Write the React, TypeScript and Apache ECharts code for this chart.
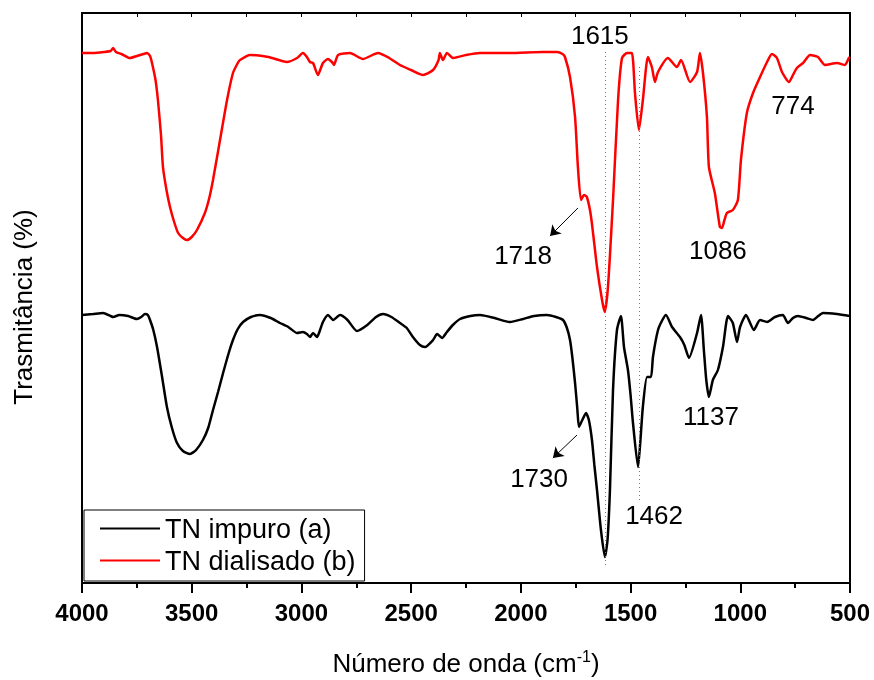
import React, { useEffect, useRef } from "react";
import * as echarts from "echarts";

const FONT = "'Liberation Sans', Arial, sans-serif";

// x-axis ticks
const xTicks = { min: 500, max: 4000, interval: 500 };

// TN dialisado (b) — wavenumber (cm-1) and transmittance (a.u.)
const wnB = [4000, 3950, 3900, 3870, 3858, 3845, 3820, 3781, 3750, 3720, 3704, 3690, 3681, 3665, 3654, 3640, 3631, 3615, 3599, 3580, 3562, 3540, 3522, 3500, 3476, 3440, 3420, 3403, 3371, 3339, 3312, 3290, 3280, 3234, 3150, 3066, 3020, 2993, 2975, 2961, 2947, 2925, 2902, 2879, 2861, 2852, 2833, 2779, 2720, 2651, 2600, 2551, 2500, 2446, 2400, 2375, 2369, 2355, 2337, 2309, 2250, 2186, 2050, 1900, 1835, 1810, 1799, 1776, 1753, 1740, 1726, 1712, 1699, 1680, 1653, 1630, 1618, 1603, 1580, 1557, 1539, 1516, 1494, 1480, 1462, 1444, 1421, 1403, 1389, 1375, 1330, 1289, 1270, 1229, 1197, 1184, 1170, 1152, 1143, 1116, 1093, 1084, 1072, 1061, 1034, 1011, 997, 970, 942, 910, 878, 856, 833, 810, 778, 760, 742, 714, 682, 646, 614, 559, 523, 505, 500];
const tB = [530, 530, 531, 532, 535, 531, 529, 525, 527, 529, 530, 527, 520, 503, 483, 448, 416, 393, 376, 361, 350, 345, 343, 346, 353, 370, 385, 403, 443, 483, 510, 520, 523, 528, 526, 521, 525, 530, 526, 521, 520, 508, 520, 524, 521, 518, 528, 530, 524, 530, 525, 518, 513, 508, 513, 523, 530, 523, 530, 525, 528, 530, 530, 531, 531, 529, 526, 506, 466, 416, 383, 388, 386, 366, 316, 283, 271, 296, 383, 483, 525, 530, 530, 490, 453, 483, 526, 516, 501, 511, 525, 516, 523, 501, 511, 530, 510, 466, 416, 390, 356, 355, 363, 370, 373, 383, 423, 470, 490, 506, 521, 529, 525, 511, 501, 508, 515, 520, 528, 526, 518, 520, 518, 525, 526];

// TN impuro (a)
const wnA = [4000, 3950, 3904, 3870, 3858, 3830, 3790, 3750, 3730, 3713, 3700, 3690, 3675, 3658, 3635, 3613, 3590, 3567, 3540, 3508, 3480, 3449, 3425, 3403, 3380, 3357, 3330, 3312, 3290, 3266, 3230, 3189, 3140, 3098, 3060, 3020, 2993, 2975, 2961, 2947, 2929, 2915, 2902, 2879, 2856, 2824, 2790, 2747, 2700, 2660, 2628, 2590, 2551, 2520, 2492, 2460, 2437, 2400, 2382, 2359, 2337, 2310, 2277, 2230, 2186, 2120, 2050, 1990, 1940, 1881, 1840, 1808, 1790, 1776, 1765, 1753, 1743, 1735, 1720, 1703, 1690, 1676, 1665, 1653, 1635, 1617, 1605, 1594, 1580, 1562, 1544, 1530, 1512, 1500, 1489, 1466, 1455, 1444, 1425, 1407, 1398, 1375, 1355, 1339, 1311, 1275, 1255, 1234, 1197, 1179, 1166, 1155, 1143, 1125, 1102, 1079, 1056, 1034, 1015, 1001, 974, 938, 910, 878, 842, 806, 783, 760, 737, 700, 669, 645, 623, 560, 500];
const tA = [268, 269, 270, 267, 266, 268, 267, 264, 266, 269, 268, 263, 253, 236, 206, 176, 155, 140, 132, 129, 133, 143, 155, 173, 191, 210, 231, 243, 254, 261, 266, 268, 265, 260, 256, 250, 251, 249, 246, 250, 246, 253, 261, 268, 263, 268, 263, 252, 258, 266, 269, 266, 260, 255, 246, 238, 236, 243, 249, 245, 251, 258, 264, 267, 268, 265, 261, 264, 267, 268, 266, 263, 255, 243, 225, 200, 175, 156, 163, 170, 163, 143, 118, 93, 53, 26, 43, 93, 193, 253, 267, 236, 213, 188, 160, 116, 143, 176, 206, 206, 226, 253, 263, 268, 256, 246, 238, 225, 250, 268, 233, 203, 186, 203, 213, 236, 267, 260, 241, 256, 268, 253, 263, 261, 266, 268, 260, 265, 267, 265, 263, 267, 270, 269, 267];

// annotations: [wavenumber, transmittance]
const labelTexts = ["1615", "1718", "1086", "774", "1730", "1462", "1137"];
const labelPos = [[1640, 548], [1990, 328], [1102, 333], [760, 478], [1917, 105], [1393, 68], [1134, 167]];
const arrows = [[[1740, 375], [1867, 347]], [[1744, 148], [1854, 125]]];
const guides = [[[1615, 531], [1615, 15]], [[1462, 516], [1462, 80]]];

const nameA = "TN impuro (a)";
const nameB = "TN dialisado (b)";

export default function App() {
  const ref = useRef<HTMLDivElement>(null);
  useEffect(() => {
    if (!ref.current) return;
    const chart = echarts.init(ref.current, null, { renderer: "svg" });
    const dataA = wnA.map((w, i) => [w, tA[i]]);
    const dataB = wnB.map((w, i) => [w, tB[i]]);
    const axisLineStyle = { color: "#000", width: 2 };
    chart.setOption({
      animation: false,
      textStyle: { fontFamily: FONT },
      grid: { left: 82, right: 24, top: 13, bottom: 97, show: false, containLabel: false, outerBoundsMode: "none" },
      legend: {
        data: [nameA, nameB],
        orient: "vertical",
        left: 84,
        top: 510,
        icon: "rect",
        itemWidth: 60,
        itemHeight: 2,
        itemGap: 5,
        padding: [5, 9, 7, 16],
        borderColor: "#000",
        borderWidth: 1,
        backgroundColor: "#fff",
        textStyle: { fontSize: 27, fontFamily: FONT, color: "#000", lineHeight: 27 },
      },
      xAxis: [
        {
          type: "value",
          ...xTicks,
          inverse: true,
          position: "bottom",
          axisLine: { show: true, onZero: false, lineStyle: axisLineStyle },
          axisTick: { show: true, length: 10, lineStyle: axisLineStyle },
          minorTick: { show: true, splitNumber: 2, length: 5, lineStyle: axisLineStyle },
          splitLine: { show: false },
          axisLabel: {
            fontSize: 24,
            fontWeight: "bold",
            color: "#000",
            fontFamily: FONT,
            margin: 17,
            formatter: (v: number) => String(v),
          },
          name: "Número de onda (cm{sup|-1})",
          nameLocation: "middle",
          nameGap: 65,
          nameTextStyle: {
            fontSize: 26,
            color: "#000",
            fontFamily: FONT,
            rich: { sup: { fontSize: 16, color: "#000", fontFamily: FONT, padding: [0, 0, 14, 0] } },
          },
        },
        {
          type: "value",
          ...xTicks,
          inverse: true,
          position: "top",
          axisLine: { show: true, onZero: false, lineStyle: axisLineStyle },
          axisTick: { show: true, inside: true, length: 4, lineStyle: { color: "#000", width: 1 } },
          minorTick: { show: true, splitNumber: 2, length: 4, lineStyle: { color: "#000", width: 1 } },
          splitLine: { show: false },
          axisLabel: { show: false },
        },
      ],
      yAxis: [
        {
          type: "value",
          min: 0,
          max: 570,
          position: "left",
          axisLine: { show: true, onZero: false, lineStyle: axisLineStyle },
          axisTick: { show: false },
          axisLabel: { show: false },
          splitLine: { show: false },
          name: "Trasmitância (%)",
          nameLocation: "middle",
          nameGap: 46,
          nameRotate: 90,
          nameTextStyle: { fontSize: 26, color: "#000", fontFamily: FONT, padding: [0, 18, 0, 0] },
        },
        {
          type: "value",
          min: 0,
          max: 570,
          position: "right",
          axisLine: { show: true, onZero: false, lineStyle: axisLineStyle },
          axisTick: { show: false },
          axisLabel: { show: false },
          splitLine: { show: false },
        },
      ],
      series: [
        {
          name: "guides",
          type: "line",
          data: [],
          z: 1,
          markLine: {
            silent: true,
            symbol: ["none", "none"],
            label: { show: false },
            lineStyle: { type: [1, 3], color: "#777", width: 1 },
            data: guides.map(([a, b]) => [{ coord: a }, { coord: b }]),
          },
        },
        {
          name: nameA,
          type: "line",
          data: dataA,
          symbol: "none",
          smooth: 0.2,
          lineStyle: { color: "#000", width: 2.5 },
          itemStyle: { color: "#000" },
          z: 3,
        },
        {
          name: nameB,
          type: "line",
          data: dataB,
          symbol: "none",
          smooth: 0.2,
          lineStyle: { color: "#ff0000", width: 2.5 },
          itemStyle: { color: "#ff0000" },
          z: 4,
        },
        {
          name: "arrows",
          type: "line",
          data: [],
          z: 5,
          markLine: {
            silent: true,
            symbol: ["none", "arrow"],
            symbolSize: 10,
            label: { show: false },
            lineStyle: { type: "solid", color: "#000", width: 1 },
            data: arrows.map(([a, b]) => [{ coord: a }, { coord: b }]),
          },
        },
        {
          name: "labels",
          type: "custom",
          data: labelPos,
          z: 6,
          renderItem: (params: any, api: any) => {
            const p = api.coord([api.value(0), api.value(1)]);
            return {
              type: "text",
              x: p[0],
              y: p[1],
              style: {
                text: labelTexts[params.dataIndex],
                fontSize: 26,
                fontFamily: FONT,
                fill: "#000",
                align: "center",
                verticalAlign: "middle",
              },
            };
          },
        },
      ],
    });
    return () => chart.dispose();
  }, []);
  return <div ref={ref} style={{ position: "fixed", left: 0, top: 0, width: 874, height: 680 }} />;
}
